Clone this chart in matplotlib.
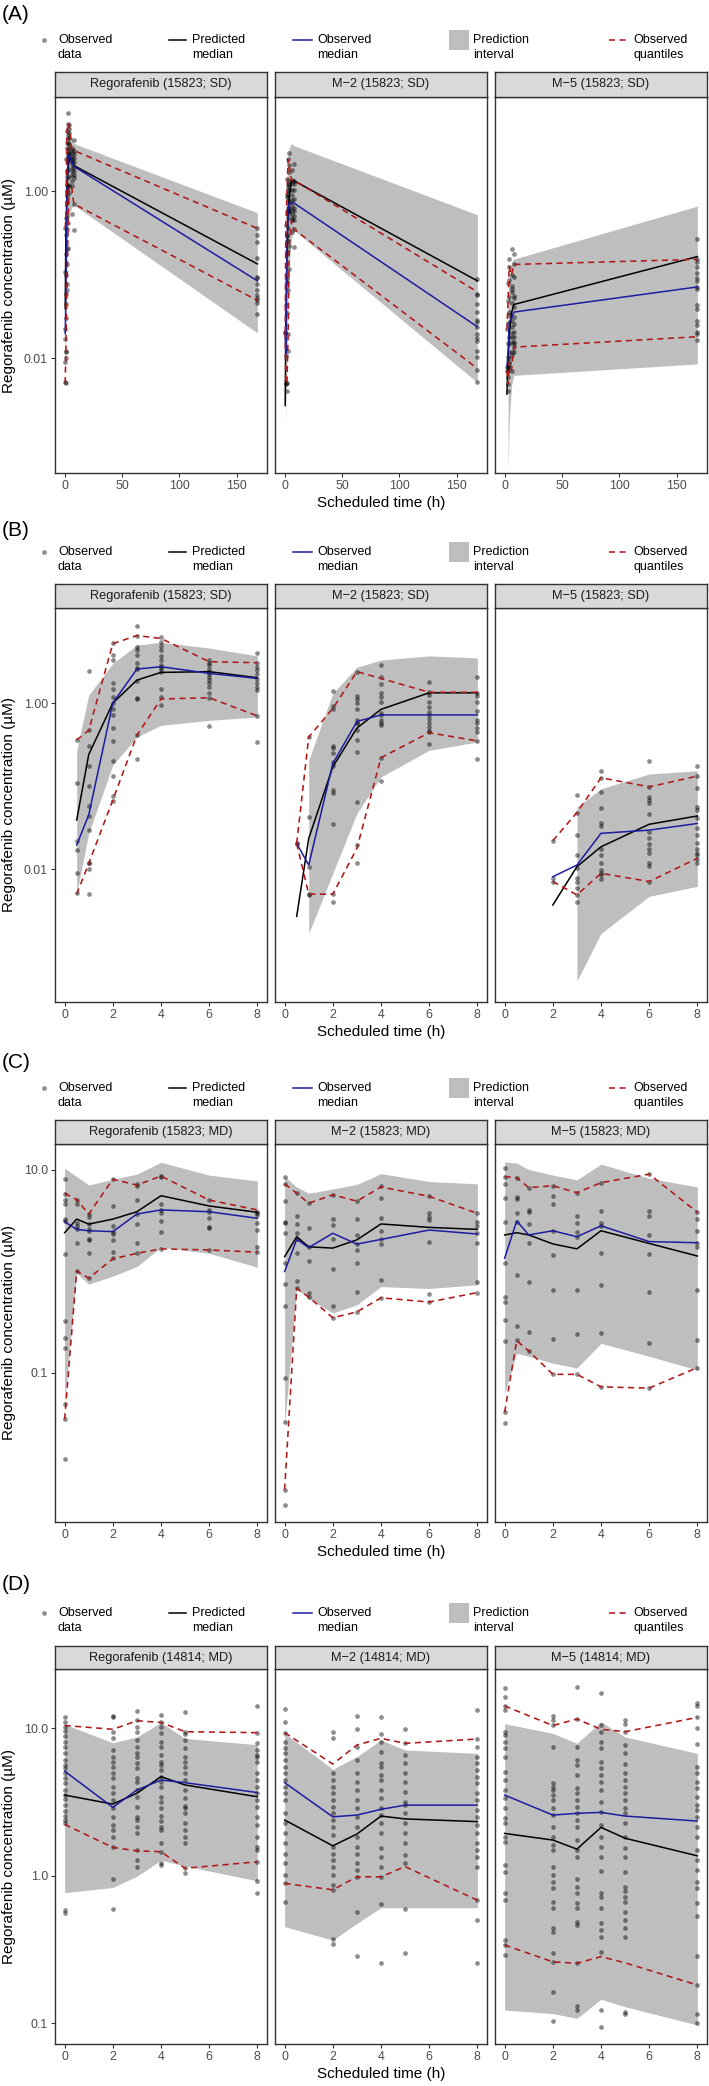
import matplotlib
matplotlib.use("Agg")
import matplotlib.pyplot as plt
from matplotlib.patches import Rectangle
from matplotlib.ticker import NullLocator

plt.rcParams['font.family'] = ['Liberation Sans', 'DejaVu Sans']

# ======================= DATA (concentrations in µM) =======================
# ---- Row B: single dose, 0-8 h (study 15823) ----
B_REG_T = [0.5, 1, 2, 3, 4, 6, 8]
B_REG_PI_LO = [0.0051, 0.027, 0.18, 0.39, 0.54, 0.62, 0.68]
B_REG_PI_HI = [0.27, 1.25, 3.0, 5.0, 5.4, 4.6, 3.7]
B_REG_PRED = [0.039, 0.24, 1.0, 1.89, 2.34, 2.39, 2.02]
B_REG_OBS = [0.0195, 0.045, 1.0, 2.57, 2.74, 2.28, 1.98]
B_REG_QLO = [0.005, 0.0117, 0.068, 0.41, 1.12, 1.16, 0.70]
B_REG_QHI = [0.36, 0.47, 5.2, 6.5, 6.0, 3.15, 3.06]
B_REG_PTS = {
    0.5: [0.36, 0.108, 0.022, 0.017, 0.009, 0.0051],
    1: [2.45, 0.47, 0.30, 0.176, 0.10, 0.058, 0.044, 0.030, 0.012, 0.0118, 0.010, 0.005],
    2: [5.3, 3.8, 3.3, 1.73, 1.46, 1.19, 1.0, 0.86, 0.72, 0.50, 0.35, 0.20, 0.132, 0.076, 0.066],
    3: [8.5, 6.4, 4.7, 4.35, 3.8, 3.0, 2.67, 2.55, 1.86, 1.14, 1.12, 0.41, 0.21],
    4: [6.2, 5.5, 4.9, 4.3, 3.7, 3.3, 2.87, 2.74, 2.55, 2.34, 1.46, 1.17, 0.95],
    6: [3.3, 3.06, 2.87, 2.57, 2.39, 2.24, 2.08, 1.89, 1.73, 1.57, 1.33, 1.16, 0.53],
    8: [4.04, 3.0, 2.74, 2.5, 2.21, 1.93, 1.73, 1.57, 1.43, 0.70, 0.34],
}

B_M2_T = [0.5, 1, 2, 3, 4, 6, 8]
B_M2_PI_T = [1, 2, 3, 4, 6, 8]
B_M2_PI_LO = [0.00168, 0.0089, 0.047, 0.129, 0.27, 0.34]
B_M2_PI_HI = [0.206, 1.31, 2.7, 3.3, 3.7, 3.5]
B_M2_PRED = [0.0027, 0.0234, 0.171, 0.50, 0.84, 1.33, 1.33]
B_M2_OBS = [0.0204, 0.0112, 0.187, 0.60, 0.72, 0.72, 0.72]
B_M2_QLO = [0.0204, 0.005, 0.005, 0.0178, 0.22, 0.44, 0.35]
B_M2_QHI = [0.0204, 0.39, 0.86, 2.39, 1.98, 1.35, 1.35]
B_M2_PTS = {
    0.5: [0.0204, 0.0200],
    1: [0.39, 0.043, 0.0107, 0.005, 0.0049],
    2: [1.41, 0.93, 0.85, 0.30, 0.29, 0.25, 0.193, 0.176, 0.090, 0.082, 0.035, 0.005, 0.004],
    3: [2.39, 1.23, 1.12, 1.0, 0.86, 0.62, 0.58, 0.57, 0.47, 0.36, 0.255, 0.065, 0.0195, 0.012],
    4: [2.87, 2.04, 1.68, 1.31, 1.19, 1.04, 0.77, 0.72, 0.62, 0.57, 0.54, 0.22, 0.115],
    6: [1.77, 1.35, 1.25, 1.04, 0.90, 0.79, 0.72, 0.64, 0.57, 0.52, 0.46, 0.45, 0.32],
    8: [2.08, 1.31, 1.21, 1.04, 0.80, 0.62, 0.57, 0.50, 0.45, 0.35, 0.215],
}

B_M5_T = [2, 3, 4, 6, 8]
B_M5_PI_T = [3, 4, 6, 8]
B_M5_PI_LO = [0.00045, 0.00168, 0.0047, 0.0062]
B_M5_PI_HI = [0.056, 0.093, 0.14, 0.153]
B_M5_PRED = [0.0037, 0.0107, 0.0186, 0.0347, 0.0437]
B_M5_OBS = [0.0081, 0.0112, 0.027, 0.0295, 0.0355]
B_M5_QLO = [0.0071, 0.0049, 0.0089, 0.0071, 0.0135]
B_M5_QHI = [0.022, 0.048, 0.126, 0.098, 0.132]
B_M5_PTS = {
    2: [0.022, 0.0079, 0.0070],
    3: [0.079, 0.048, 0.026, 0.015, 0.0102, 0.0079, 0.0070, 0.006, 0.0049, 0.004],
    4: [0.153, 0.124, 0.086, 0.054, 0.0355, 0.033, 0.0177, 0.0148, 0.0119, 0.0099, 0.0089, 0.0085, 0.0077],
    6: [0.20, 0.098, 0.073, 0.068, 0.062, 0.0456, 0.028, 0.0234, 0.020, 0.0177, 0.0157, 0.0117, 0.0108, 0.0070],
    8: [0.174, 0.132, 0.094, 0.056, 0.052, 0.041, 0.031, 0.0257, 0.0204, 0.0177, 0.0157, 0.0148, 0.0134, 0.0119],
}

# ---- Row A: single dose incl. 168 h (early part identical to row B) ----
A_END_T = 168
A_REG_END = [0.020, 0.55, 0.134, 0.084, 0.049, 0.357]      # pi_lo, pi_hi, pred, obs, q_lo, q_hi
A_REG_END_PTS = [0.357, 0.297, 0.247, 0.156, 0.094, 0.090, 0.078, 0.065, 0.057, 0.053, 0.049, 0.045, 0.034]
A_M2_END = [0.0051, 0.52, 0.084, 0.0237, 0.0075, 0.062]
A_M2_END_PTS = [0.088, 0.059, 0.057, 0.044, 0.036, 0.0285, 0.027, 0.0237, 0.0194, 0.0175, 0.016,
                0.0121, 0.0104, 0.0072, 0.0051]
A_M5_END = [0.0085, 0.66, 0.164, 0.071, 0.018, 0.152]
A_M5_END_PTS = [0.266, 0.152, 0.143, 0.124, 0.105, 0.090, 0.084, 0.071, 0.068, 0.043, 0.039, 0.028,
                0.0248, 0.0207, 0.0194, 0.0164]

# ---- Row C: multiple dose (study 15823) ----
C_T = [0, 0.5, 1, 2, 3, 4, 6, 8]
C_REG_PI_LO = [0.050, 0.96, 0.75, 0.90, 1.12, 1.73, 1.51, 1.10]
C_REG_PI_HI = [10.4, 8.6, 7.1, 8.1, 9.1, 11.9, 8.9, 7.8]
C_REG_PRED = [2.41, 3.28, 2.93, 3.28, 3.88, 5.58, 4.42, 3.83]
C_REG_OBS = [3.09, 2.60, 2.52, 2.47, 3.68, 4.04, 3.88, 3.34]
C_REG_QLO = [0.035, 1.01, 0.86, 1.33, 1.51, 1.67, 1.63, 1.55]
C_REG_QHI = [5.9, 5.1, 3.68, 8.1, 7.1, 8.7, 5.06, 4.04]
C_REG_PTS = {
    0: [8.1, 5.8, 5.1, 4.6, 3.29, 3.17, 1.48, 0.325, 0.22, 0.178, 0.050, 0.035, 0.0141],
    0.5: [5.1, 4.6, 3.03, 2.8, 2.6, 1.92, 1.01],
    1: [3.69, 3.47, 2.94, 2.6, 2.52, 2.09, 2.04, 1.53, 0.86],
    2: [8.1, 4.45, 2.8, 2.47, 2.32, 2.04, 1.55, 1.35],
    3: [7.2, 6.9, 5.06, 3.66, 2.92, 1.92, 1.53],
    4: [8.7, 8.5, 4.6, 4.04, 3.8, 3.15, 2.43, 1.67],
    6: [5.06, 4.04, 3.88, 3.34, 2.77, 2.66, 1.63],
    8: [3.88, 3.74, 3.6, 3.03, 2.56, 1.76, 1.55],
}

C_M2_PI_LO = [0.03, 0.68, 0.54, 0.39, 0.47, 0.71, 0.68, 0.74]
C_M2_PI_HI = [8.6, 6.8, 5.9, 6.5, 7.2, 9.2, 7.7, 7.3]
C_M2_PRED = [1.40, 2.2, 1.75, 1.70, 2.05, 2.94, 2.72, 2.6]
C_M2_OBS = [1.0, 2.07, 1.72, 2.38, 1.86, 2.07, 2.56, 2.34]
C_M2_QLO = [0.0071, 0.68, 0.56, 0.35, 0.40, 0.55, 0.50, 0.62]
C_M2_QHI = [7.3, 5.9, 4.7, 5.7, 4.93, 6.8, 5.5, 3.74]
C_M2_PTS = {
    0: [8.6, 7.3, 4.99, 3.1, 2.98, 2.38, 1.22, 0.76, 0.46, 0.090, 0.033, 0.0071, 0.0050],
    0.5: [5.9, 3.52, 2.92, 2.38, 2.07, 1.51, 0.81, 0.68],
    1: [4.7, 2.66, 1.76, 1.28, 0.62, 0.56],
    2: [5.7, 3.29, 2.87, 2.07, 1.07, 0.46, 0.35],
    3: [4.95, 3.29, 2.29, 1.87, 1.63, 1.22, 0.63, 0.40],
    4: [6.9, 5.3, 3.34, 2.52, 2.07, 1.87, 0.83, 0.55],
    6: [5.5, 3.8, 3.47, 3.22, 1.97, 0.60, 0.50],
    8: [3.74, 3.1, 2.81, 2.38, 1.92, 0.78, 0.62],
}

C_M5_PI_LO = [0.063, 0.156, 0.146, 0.125, 0.112, 0.196, 0.146, 0.107]
C_M5_PI_HI = [12.0, 11.7, 10.1, 8.9, 8.0, 11.4, 8.3, 6.8]
C_M5_PRED = [2.29, 2.41, 2.29, 1.87, 1.67, 2.52, 1.89, 1.42]
C_M5_OBS = [1.35, 3.15, 2.29, 2.52, 2.2, 2.82, 1.97, 1.92]
C_M5_QLO = [0.041, 0.208, 0.165, 0.097, 0.097, 0.073, 0.071, 0.113]
C_M5_QHI = [8.6, 8.4, 6.7, 7.0, 5.97, 7.5, 9.1, 3.83]
C_M5_PTS = {
    0: [10.5, 8.6, 7.3, 5.3, 3.1, 1.22, 0.565, 0.50, 0.33, 0.208, 0.041, 0.032],
    0.5: [8.4, 5.4, 5.2, 3.74, 3.1, 0.92, 0.29, 0.21],
    1: [6.7, 4.04, 3.88, 2.92, 1.92, 0.79, 0.255, 0.165],
    2: [7.0, 5.5, 4.6, 2.52, 1.45, 0.65, 0.215, 0.097],
    3: [5.98, 3.52, 2.98, 2.47, 2.2, 0.65, 0.242, 0.097],
    4: [7.5, 3.97, 2.98, 2.83, 1.53, 0.74, 0.246, 0.073],
    6: [9.1, 3.97, 3.52, 2.29, 1.49, 0.63, 0.199, 0.071],
    8: [3.83, 3.29, 2.52, 1.92, 1.76, 0.66, 0.21, 0.113],
}

# ---- Row D: multiple dose (study 14814) ----
D_T = [0, 2, 3, 4, 5, 8]
D_REG_PI_LO = [0.765, 0.83, 0.99, 1.27, 1.16, 0.92]
D_REG_PI_HI = [10.6, 7.95, 8.7, 10.9, 8.5, 7.7]
D_REG_PRED = [3.51, 3.05, 3.61, 4.68, 4.11, 3.42]
D_REG_OBS = [5.1, 2.9, 3.8, 4.44, 4.26, 3.65]
D_REG_QLO = [2.22, 1.55, 1.47, 1.45, 1.12, 1.24]
D_REG_QHI = [10.4, 9.8, 11.2, 10.9, 9.44, 9.3]
D_REG_PTS = {
    0: [11.9, 11.0, 10.2, 9.6, 8.83, 8.08, 7.47, 6.73, 6.07, 5.61, 5.33, 4.93, 4.56, 4.26, 3.8, 3.51,
        3.28, 3.0, 2.75, 2.53, 2.38, 2.26, 0.58, 0.555],
    2: [12.1, 11.9, 9.44, 8.51, 7.1, 6.4, 5.92, 5.47, 4.93, 4.56, 4.0, 3.61, 3.25, 2.85, 2.5, 2.2,
        2.03, 1.83, 1.57, 0.94, 0.59],
    3: [13.1, 11.3, 10.2, 9.44, 8.29, 7.47, 6.73, 6.32, 5.77, 5.33, 4.56, 4.33, 3.8, 3.42, 2.93, 2.5,
        2.38, 2.14, 1.95, 1.49, 1.27, 1.14],
    4: [12.3, 11.0, 10.2, 9.2, 8.08, 7.47, 6.56, 5.92, 5.61, 5.19, 4.68, 4.33, 4.0, 3.42, 3.17, 2.85,
        2.53, 2.34, 2.14, 2.03, 1.67, 1.45, 1.22, 1.18],
    5: [12.9, 9.44, 9.1, 8.29, 7.28, 6.4, 5.92, 5.47, 4.93, 4.44, 3.8, 3.34, 2.96, 2.85, 2.64, 2.26,
        2.03, 1.83, 1.65, 1.12, 1.04],
    8: [14.1, 9.3, 7.87, 7.1, 6.56, 6.4, 5.92, 4.93, 4.44, 4.0, 3.61, 3.25, 2.93, 2.5, 2.2, 1.83,
        1.57, 1.49, 1.24, 0.92, 0.765],
}

D_M2_PI_LO = [0.45, 0.365, 0.474, 0.605, 0.605, 0.605]
D_M2_PI_HI = [9.2, 5.25, 6.4, 8.29, 7.1, 6.73]
D_M2_PRED = [2.38, 1.59, 1.91, 2.53, 2.42, 2.32]
D_M2_OBS = [4.26, 2.5, 2.57, 2.81, 3.0, 3.0]
D_M2_QLO = [0.885, 0.80, 0.98, 0.98, 1.15, 0.68]
D_M2_QHI = [9.3, 5.7, 7.67, 8.51, 7.87, 8.42]
D_M2_PTS = {
    0: [13.4, 10.9, 9.2, 8.08, 7.28, 6.73, 6.07, 5.47, 4.93, 4.44, 4.0, 3.61, 3.25, 2.64, 2.26, 1.93,
        1.65, 1.41, 1.21, 1.01, 0.885, 0.665],
    2: [9.44, 8.51, 4.93, 4.44, 4.0, 3.61, 3.25, 2.93, 2.64, 2.38, 2.14, 1.88, 1.57, 1.41, 1.27, 1.15,
        1.01, 0.86, 0.80, 0.37, 0.344],
    3: [12.1, 9.8, 7.47, 6.07, 4.93, 4.33, 3.8, 3.25, 2.85, 2.5, 2.14, 1.83, 1.57, 1.41, 1.21, 1.09,
        0.98, 0.57, 0.286],
    4: [11.9, 9.06, 8.08, 6.92, 5.77, 5.47, 4.8, 4.44, 3.8, 3.34, 2.85, 2.57, 2.26, 1.93, 1.53, 1.34,
        1.15, 0.98, 0.64, 0.254],
    5: [9.85, 7.87, 6.56, 5.77, 4.93, 4.33, 3.7, 3.17, 3.0, 2.64, 2.26, 1.93, 1.65, 1.38, 1.22, 0.59,
        0.297],
    8: [13.2, 8.42, 7.47, 6.4, 5.77, 5.19, 4.68, 4.22, 3.61, 3.25, 2.78, 2.5, 2.2, 1.93, 1.65, 1.49,
        1.34, 1.15, 0.68, 0.50, 0.254],
}

D_M5_PI_LO = [0.1225, 0.116, 0.1076, 0.145, 0.129, 0.097]
D_M5_PI_HI = [10.7, 9.2, 7.87, 11.0, 8.7, 6.73]
D_M5_PRED = [1.93, 1.74, 1.51, 2.12, 1.79, 1.36]
D_M5_OBS = [3.51, 2.57, 2.64, 2.68, 2.53, 2.34]
D_M5_QLO = [0.338, 0.26, 0.254, 0.282, 0.256, 0.181]
D_M5_QHI = [14.1, 10.4, 11.5, 9.8, 9.44, 11.8]
D_M5_PTS = {
    0: [18.6, 16.3, 14.0, 13.2, 9.44, 8.97, 8.08, 7.28, 6.4, 5.06, 4.44, 3.8, 3.34, 2.85, 2.44, 2.26,
        1.83, 1.7, 1.18, 1.06, 0.757, 0.68, 0.365, 0.338, 0.289],
    2: [12.1, 11.3, 10.5, 7.39, 4.22, 4.0, 3.8, 3.51, 3.25, 2.85, 2.57, 2.14, 1.83, 1.61, 1.49, 1.15,
        1.01, 0.91, 0.82, 0.665, 0.60, 0.44, 0.416, 0.30, 0.26, 0.163, 0.103],
    3: [19.1, 11.5, 7.47, 6.07, 5.61, 4.8, 3.9, 3.61, 3.25, 2.93, 2.64, 2.38, 2.14, 1.74, 1.49, 1.34,
        0.94, 0.84, 0.757, 0.65, 0.60, 0.486, 0.462, 0.254, 0.131, 0.1225],
    4: [17.2, 10.5, 9.44, 8.08, 7.28, 5.92, 5.33, 4.8, 4.33, 3.8, 3.17, 2.71, 2.2, 1.83, 1.55, 1.34,
        1.08, 0.757, 0.72, 0.60, 0.474, 0.43, 0.385, 0.305, 0.1225, 0.0935],
    5: [11.3, 10.6, 9.44, 7.67, 6.73, 5.7, 4.93, 4.44, 4.0, 3.61, 3.25, 2.85, 2.64, 2.26, 1.83, 1.53,
        1.34, 1.06, 0.84, 0.78, 0.72, 0.665, 0.57, 0.50, 0.44, 0.385, 0.119, 0.116],
    8: [14.7, 14.0, 11.8, 9.95, 7.75, 5.47, 4.93, 4.33, 3.9, 3.42, 3.0, 2.78, 2.5, 2.14, 1.83, 1.49,
        1.27, 1.09, 0.91, 0.82, 0.65, 0.53, 0.285, 0.181, 0.116, 0.0995],
}

STRIPS_A = ['Regorafenib (15823; SD)', 'M\u22122 (15823; SD)', 'M\u22125 (15823; SD)']
STRIPS_C = ['Regorafenib (15823; MD)', 'M\u22122 (15823; MD)', 'M\u22125 (15823; MD)']
STRIPS_D = ['Regorafenib (14814; MD)', 'M\u22122 (14814; MD)', 'M\u22125 (14814; MD)']
LEGEND_LABELS = [('Observed', 'data'), ('Predicted', 'median'), ('Observed', 'median'),
                 ('Prediction', 'interval'), ('Observed', 'quantiles')]
XLABEL = 'Scheduled time (h)'
YLABEL = 'Regorafenib concentration (\u00b5M)'

# ======================= PANEL ASSEMBLY =======================
def panel(t, pi_t, pi_lo, pi_hi, pred, obs, qlo, qhi, pts):
    return dict(t=t, pi_t=pi_t, pi_lo=pi_lo, pi_hi=pi_hi, pred=pred, obs=obs, qlo=qlo, qhi=qhi, pts=pts)

def with_end(p, end, end_pts):
    return panel(p['t'] + [A_END_T], p['pi_t'] + [A_END_T], p['pi_lo'] + [end[0]], p['pi_hi'] + [end[1]],
                 p['pred'] + [end[2]], p['obs'] + [end[3]], p['qlo'] + [end[4]], p['qhi'] + [end[5]],
                 {**p['pts'], A_END_T: end_pts})

PB = [panel(B_REG_T, B_REG_T, B_REG_PI_LO, B_REG_PI_HI, B_REG_PRED, B_REG_OBS, B_REG_QLO, B_REG_QHI, B_REG_PTS),
      panel(B_M2_T, B_M2_PI_T, B_M2_PI_LO, B_M2_PI_HI, B_M2_PRED, B_M2_OBS, B_M2_QLO, B_M2_QHI, B_M2_PTS),
      panel(B_M5_T, B_M5_PI_T, B_M5_PI_LO, B_M5_PI_HI, B_M5_PRED, B_M5_OBS, B_M5_QLO, B_M5_QHI, B_M5_PTS)]
PA = [with_end(PB[0], A_REG_END, A_REG_END_PTS),
      with_end(PB[1], A_M2_END, A_M2_END_PTS),
      with_end(PB[2], A_M5_END, A_M5_END_PTS)]
PC = [panel(C_T, C_T, C_REG_PI_LO, C_REG_PI_HI, C_REG_PRED, C_REG_OBS, C_REG_QLO, C_REG_QHI, C_REG_PTS),
      panel(C_T, C_T, C_M2_PI_LO, C_M2_PI_HI, C_M2_PRED, C_M2_OBS, C_M2_QLO, C_M2_QHI, C_M2_PTS),
      panel(C_T, C_T, C_M5_PI_LO, C_M5_PI_HI, C_M5_PRED, C_M5_OBS, C_M5_QLO, C_M5_QHI, C_M5_PTS)]
PD = [panel(D_T, D_T, D_REG_PI_LO, D_REG_PI_HI, D_REG_PRED, D_REG_OBS, D_REG_QLO, D_REG_QHI, D_REG_PTS),
      panel(D_T, D_T, D_M2_PI_LO, D_M2_PI_HI, D_M2_PRED, D_M2_OBS, D_M2_QLO, D_M2_QHI, D_M2_PTS),
      panel(D_T, D_T, D_M5_PI_LO, D_M5_PI_HI, D_M5_PRED, D_M5_OBS, D_M5_QLO, D_M5_QHI, D_M5_PTS)]

ROWS = [
    dict(tag='(A)', tag_y=15, leg_y=40, strip=(72, 97), plot=(97, 473), ylog=(-3.377, 1.126),
         xlim=(-8.4, 176.4), xticks=[0, 50, 100, 150], yticks=[0.01, 1.0], ylabels=['0.01', '1.00'],
         strips=STRIPS_A, panels=PA),
    dict(tag='(B)', tag_y=530, leg_y=552, strip=(584, 608), plot=(608, 1002), ylog=(-3.60, 1.145),
         xlim=(-0.4, 8.4), xticks=[0, 2, 4, 6, 8], yticks=[0.01, 1.0], ylabels=['0.01', '1.00'],
         strips=STRIPS_A, panels=PB),
    dict(tag='(C)', tag_y=1063, leg_y=1088, strip=(1120, 1144), plot=(1144, 1522), ylog=(-2.468, 1.256),
         xlim=(-0.4, 8.4), xticks=[0, 2, 4, 6, 8], yticks=[0.1, 10.0], ylabels=['0.1', '10.0'],
         strips=STRIPS_C, panels=PC),
    dict(tag='(D)', tag_y=1585, leg_y=1613, strip=(1646, 1669), plot=(1669, 2044), ylog=(-1.142, 1.40),
         xlim=(-0.4, 8.4), xticks=[0, 2, 4, 6, 8], yticks=[0.1, 1.0, 10.0], ylabels=['0.1', '1.0', '10.0'],
         strips=STRIPS_D, panels=PD),
]

# ======================= STYLE / LAYOUT =======================
W, H = 709, 2086
PANEL_X = [(55, 267), (275, 487), (495, 707)]
PI_COLOR = '#BEBEBE'
OBS_COLOR = '#1C1CA0'
Q_COLOR = '#B01818'
EDGE = '#333333'
PT_KW = dict(marker='o', ls='none', ms=3.4, mew=0, color='black', alpha=0.45)
DASH = (3.8, 2.8)

fig = plt.figure(figsize=(W / 100, H / 100), dpi=100)


def rect(x0, y0, x1, y1):
    return [x0 / W, 1 - y1 / H, (x1 - x0) / W, (y1 - y0) / H]


def draw_panel(ax, p):
    ax.fill_between(p['pi_t'], p['pi_lo'], p['pi_hi'], color=PI_COLOR, lw=0, zorder=1)
    xs = [k for k, v in p['pts'].items() for _ in v]
    ys = [y for v in p['pts'].values() for y in v]
    ax.plot(xs, ys, zorder=2, **PT_KW)
    ax.plot(p['t'], p['pred'], color='black', lw=1.1, zorder=3)
    ax.plot(p['t'], p['obs'], color=OBS_COLOR, lw=1.1, zorder=3)
    ax.plot(p['t'], p['qlo'], color=Q_COLOR, lw=1.15, dashes=DASH, zorder=4)
    ax.plot(p['t'], p['qhi'], color=Q_COLOR, lw=1.15, dashes=DASH, zorder=4)


for row in ROWS:
    s0, s1 = row['strip']
    p0, p1 = row['plot']
    for j, (x0, x1) in enumerate(PANEL_X):
        ax = fig.add_axes(rect(x0, p0, x1, p1))
        draw_panel(ax, row['panels'][j])
        ax.set_yscale('log')
        ax.set_ylim(10 ** row['ylog'][0], 10 ** row['ylog'][1])
        ax.set_xlim(*row['xlim'])
        ax.set_xticks(row['xticks'])
        ax.set_xticklabels([str(v) for v in row['xticks']])
        ax.set_yticks(row['yticks'])
        ax.set_yticklabels(row['ylabels'])
        ax.yaxis.set_minor_locator(NullLocator())
        ax.tick_params(axis='both', length=3, width=0.8, color=EDGE, labelsize=8.9,
                       labelcolor='#4D4D4D', pad=2)
        if j > 0:
            ax.tick_params(axis='y', left=False, labelleft=False)
        for sp in ax.spines.values():
            sp.set_color(EDGE)
            sp.set_linewidth(1.0)
        # strip
        sx = fig.add_axes(rect(x0, s0, x1, s1))
        sx.set_facecolor('#D9D9D9')
        sx.set_xticks([])
        sx.set_yticks([])
        for sp in sx.spines.values():
            sp.set_color(EDGE)
            sp.set_linewidth(1.0)
        sx.text(0.5, 0.5, row['strips'][j], ha='center', va='center', fontsize=9.2,
                color='#1A1A1A', transform=sx.transAxes)

    # axis titles and tag
    fig.text(381 / W, 1 - (p1 + 30) / H, XLABEL, ha='center', va='center', fontsize=11)
    fig.text(9 / W, 1 - ((p0 + p1) / 2) / H, YLABEL, ha='center', va='center', fontsize=11, rotation=90)
    fig.text(2 / W, 1 - row['tag_y'] / H, row['tag'], ha='left', va='center', fontsize=15)

# ======================= LEGENDS (overlay in pixel coordinates) =======================
ov = fig.add_axes([0, 0, 1, 1])
ov.set_xlim(0, W)
ov.set_ylim(H, 0)
ov.axis('off')
KEY_X = [(44, 44), (169, 186), (293, 312), (449, 469), (609, 626)]
TEXT_X = [58, 192, 317, 473, 633]
for row in ROWS:
    y = row['leg_y']
    ov.plot([KEY_X[0][0]], [y], **PT_KW)
    ov.plot(KEY_X[1], [y, y], color='black', lw=1.1)
    ov.plot(KEY_X[2], [y, y], color=OBS_COLOR, lw=1.1)
    ov.add_patch(Rectangle((KEY_X[3][0], y - 10), KEY_X[3][1] - KEY_X[3][0], 20, color=PI_COLOR, lw=0))
    ov.plot(KEY_X[4], [y, y], color=Q_COLOR, lw=1.15, dashes=DASH)
    for (l1, l2), tx in zip(LEGEND_LABELS, TEXT_X):
        ov.text(tx, y, l1, ha='left', va='center', fontsize=9)
        ov.text(tx, y + 15, l2, ha='left', va='center', fontsize=9)

fig.savefig('out.png', dpi=100)
